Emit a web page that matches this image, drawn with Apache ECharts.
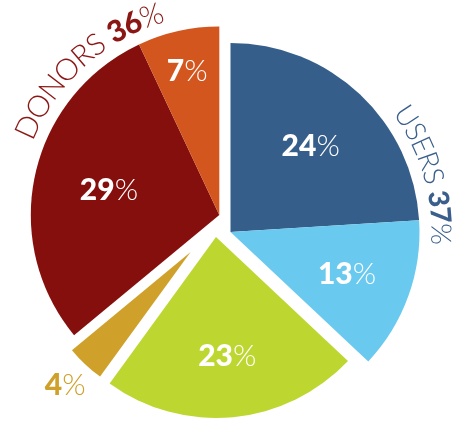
<!DOCTYPE html>
<html>
<head>
<meta charset="utf-8">
<script src="https://cdn.jsdelivr.net/npm/echarts@6/dist/echarts.min.js"></script>
<style>
  html, body { margin: 0; padding: 0; background: #ffffff; }
  #chart { width: 457px; height: 424px; }
</style>
</head>
<body>
<div id="chart"></div>
<script>
// Shares in percent, listed clockwise from twelve o'clock
const userSegments = ['Core users', 'Occasional users'];
const userShares = [24, 13];
const partnerSegments = ['Partners'];
const partnerShares = [23];
const otherSegments = ['Other'];
const otherShares = [4];
const donorSegments = ['Major donors', 'Small donors'];
const donorShares = [29, 7];

const sum = a => a.reduce((s, v) => s + v, 0);
const grandTotal = sum(userShares) + sum(partnerShares) + sum(otherShares) + sum(donorShares);

// Each wedge group is its own pie, nudged away from the others
const groups = [
  { names: userSegments, values: userShares, colors: ['#365e8a', '#69c9ee'],
    center: [230.5, 232], radius: 189, depth: [0.62, 0.655], labelColor: '#ffffff' },
  { names: partnerSegments, values: partnerShares, colors: ['#bed630'],
    center: [216, 237], radius: 181, depth: [0.66], labelColor: '#ffffff' },
  { names: otherSegments, values: otherShares, colors: ['#cfa02a'],
    center: [190.6, 252], radius: 154, depth: [1.19], labelColor: '#cfa02a' },
  { names: donorSegments, values: donorShares, colors: ['#850f0c', '#d4561f'],
    center: [219.3, 215], radius: 188.5, depth: [0.6, 0.78], labelColor: '#ffffff' }
];

let before = 0;
const series = groups.map((g) => {
  const startAngle = 90 - 360 * before / grandTotal;
  before += sum(g.values);
  const data = g.values.map((v, i) => ({
    name: g.names[i],
    value: v,
    itemStyle: { color: g.colors[i] }
  }));
  data.push({
    name: 'rest',
    value: grandTotal - sum(g.values),
    itemStyle: { color: 'rgba(0,0,0,0)' },
    label: { show: false }
  });
  return {
    type: 'pie',
    center: g.center,
    radius: g.radius,
    startAngle: startAngle,
    clockwise: true,
    silent: true,
    animation: false,
    avoidLabelOverlap: false,
    labelLine: { show: false },
    label: {
      show: true,
      position: 'inside',
      formatter: p => '{n|' + p.value + '}{p|%}',
      rich: {
        n: { fontFamily: 'Lato', fontWeight: 900, fontSize: 30, color: g.labelColor },
        p: { fontFamily: 'Lato', fontWeight: 300, fontSize: 30, color: g.labelColor }
      }
    },
    labelLayout: (params) => {
      const i = params.dataIndex;
      let acc = 0;
      for (let k = 0; k < i; k++) acc += g.values[k];
      const mid = (startAngle - 360 * (acc + g.values[i] / 2) / grandTotal) * Math.PI / 180;
      const r = g.radius * g.depth[i];
      return {
        x: g.center[0] + r * Math.cos(mid),
        y: g.center[1] - r * Math.sin(mid),
        align: 'center',
        verticalAlign: 'middle'
      };
    },
    data: data
  };
});

// Group captions set along the rim, one glyph at a time
const measureCtx = document.createElement('canvas').getContext('2d');
function arcText(center, R, midDeg, runs) {
  const glyphs = [];
  runs.forEach(run => {
    const font = run.weight + ' ' + run.size + 'px Lato';
    measureCtx.font = font;
    for (const ch of run.text) {
      glyphs.push({ ch, run, w: measureCtx.measureText(ch).width + (run.spacing || 0) });
    }
  });
  const total = glyphs.reduce((s, gl) => s + gl.w, 0);
  let ang = midDeg * Math.PI / 180 + (total / 2) / R;
  const out = [];
  glyphs.forEach(gl => {
    const a = ang - (gl.w / 2) / R;
    ang -= gl.w / R;
    if (gl.ch === ' ') return;
    out.push({
      type: 'text',
      x: center[0] + R * Math.cos(a),
      y: center[1] - R * Math.sin(a),
      rotation: a - Math.PI / 2,
      silent: true,
      style: {
        text: gl.ch,
        fontFamily: 'Lato',
        fontWeight: gl.run.weight,
        fontSize: gl.run.size,
        fill: gl.run.color,
        align: 'center',
        verticalAlign: 'middle'
      }
    });
  });
  return out;
}

const usersColor = '#3a5f8c';
const donorsColor = '#8a1714';
const captions = [].concat(
  arcText(groups[0].center, 210, 16.3, [
    { text: 'USERS ', weight: 300, size: 28, color: usersColor },
    { text: String(sum(userShares)), weight: 900, size: 28, color: usersColor },
    { text: '%', weight: 300, size: 28, color: usersColor }
  ]),
  arcText(groups[3].center, 210, 132, [
    { text: 'DONORS ', weight: 300, size: 30, color: donorsColor },
    { text: String(sum(donorShares)), weight: 900, size: 30, color: donorsColor },
    { text: '%', weight: 300, size: 30, color: donorsColor }
  ])
);

const chart = echarts.init(document.getElementById('chart'), null, { renderer: 'canvas' });
chart.setOption({
  animation: false,
  backgroundColor: '#ffffff',
  series: series,
  graphic: captions
});
</script>
</body>
</html>
